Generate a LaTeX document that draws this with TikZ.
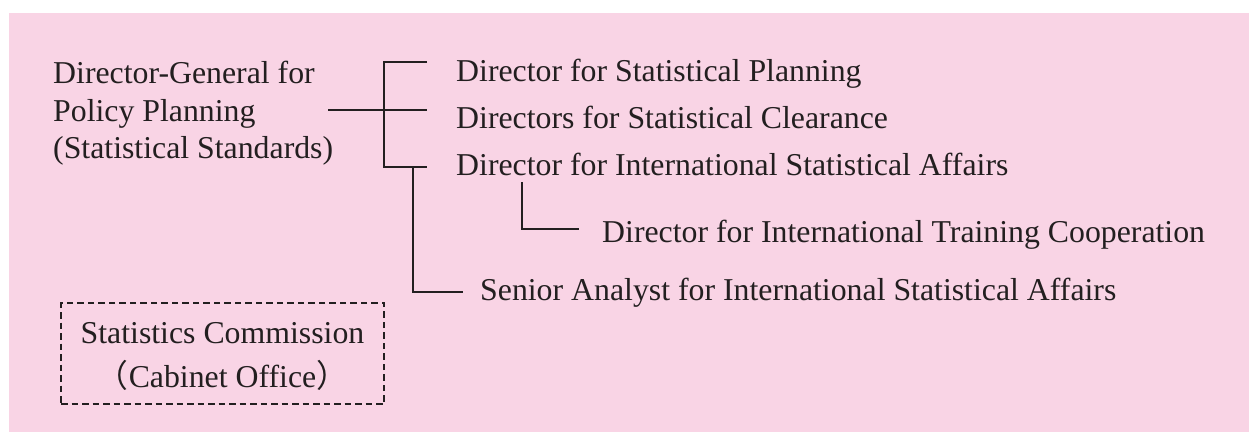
\documentclass[tikz,border=0pt]{standalone}
\usepackage{fontspec}
\setmainfont{Liberation Serif}
\newfontfamily\cjk{Noto Sans CJK JP}
\definecolor{bgpink}{RGB}{249,212,229}
\definecolor{ink}{RGB}{35,31,32}
\begin{document}
\begin{tikzpicture}[x=1pt,y=-1pt,
  lbl/.style={inner sep=0pt, anchor=base west, text=ink, font=\fontsize{31.8}{37}\selectfont},
  conn/.style={draw=ink, line width=2pt},
  dashbox/.style={draw=ink, line width=1.8pt, dash pattern=on 6.5pt off 4pt, inner sep=0pt}]
\useasboundingbox (0,0) rectangle (1249,432);
\fill[bgpink] (9,13) rectangle (1249,432);

% left block
\node[lbl] (dg1) at (53,83) {Director-General for};
\node[lbl] (dg2) at (53,121) {Policy Planning};
\node[lbl] (dg3) at (53,158) {(Statistical Standards)};

% right entries
\node[lbl] (sp)  at (456,81)  {Director for Statistical Planning};
\node[lbl] (scl) at (456,128) {Directors for Statistical Clearance};
\node[lbl] (isa) at (456,175) {Director for International Statistical Affairs};
\node[lbl] (itc) at (602,242) {Director for International Training Cooperation};
\node[lbl] (sa)  at (480,300) {Senior Analyst for International Statistical Affairs};

% connector points
\coordinate (dgout) at (328,110);
\coordinate (bmid)  at (384,110);
\coordinate (t1) at (427,62);
\coordinate (t2) at (427,110);
\coordinate (t3) at (427,167);
\coordinate (s0) at (413,167);
\coordinate (s1) at (463,292);
\coordinate (u0) at (522,182);
\coordinate (u1) at (579,229);

\draw[conn] (dgout) -- (t2);
\draw[conn] (t1) -- (384,62) -- (384,167) -- (t3);
\draw[conn] (s0) |- (s1);
\draw[conn] (u0) |- (u1);

% dashed box
\node[dashbox, minimum width=323pt, minimum height=101pt] (box) at (222.5,353.5) {};
\node[lbl, anchor=base] (scm1) at (222.5,343) {Statistics Commission};
\node[lbl, anchor=base] (scm2) at (222.5,387) {{\cjk （}Cabinet Office{\cjk ）}};
\end{tikzpicture}
\end{document}
